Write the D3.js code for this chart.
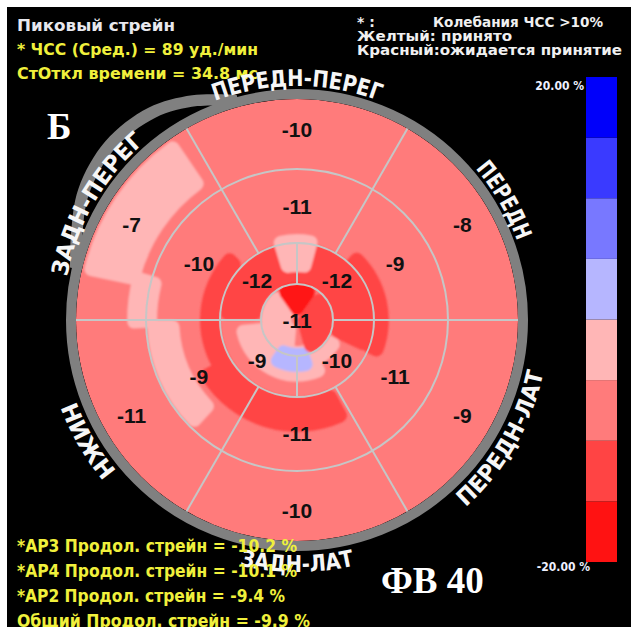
<!DOCTYPE html>
<html>
<head>
<meta charset="utf-8">
<script src="https://cdn.jsdelivr.net/npm/d3@7"></script>
<style>
  body { margin: 0; background: #fff; }
  text { font-family: 'DejaVu Sans', sans-serif; }
</style>
</head>
<body>
<svg width="631" height="627"></svg>
<script>
// peak longitudinal strain per segment, %
const basalValues = [-10, -8, -9, -10, -11, -7] // clockwise from the top sector
const midValues = [-11, -9, -11, -11, -9, -10]
const apicalValues = [-12, -10, -9, -12] // upper-right, lower-right, lower-left, upper-left
const apexValue = -11
const wallLabels = ['ПЕРЕДН-ПЕРЕГ', 'ПЕРЕДН', 'ПЕРЕДН-ЛАТ', 'ЗАДН-ЛАТ', 'НИЖН', 'ЗАДН-ПЕРЕГ']

// colour legend
const legendBreaks = [-15, -10, -5, 0, 5, 10, 15]
const legendColors = ['#ff1212', '#ff4444', '#ff7b7b', '#ffb6b6', '#b6b6ff', '#7878ff', '#3a3aff', '#0000fa']
const legendLabels = ['20.00 %', '-20.00 %']

// strain map: [ring from, ring to, angle from, angle to, strain]
// rings: 0 centre, 1 apex, 2 apical, 3 mid, 4 basal edge; angle in degrees, 0 = top
const baseStrain = -8
const patches = [
  [3.16, 3.97, -78, -34, -3],
  [2.85, 3.27, -93, -73, -3],
  [2.55, 2.99, -137, -90, -3],
  [2.0, 2.47, -208, -118, -12],
  [2.0, 2.27, -125, -44, -12],
  [1.83, 2.2, 40, 115, -12],
  [1.0, 2.0, -90, 115, -12],
  [1.29, 2.12, -17, 15, -3],
  [0.72, 1.63, -210, -95, -3],
  [0.15, 1.0, -175, -30, -3],
  [0.6, 1.35, 115, 160, -3],
  [0.78, 1.39, -200, -146, 2],
  [0.0, 1.0, 35, 165, -12],
  [0.14, 1.02, -35, 35, -17]
]

const headerLines = ['Пиковый стрейн', '* ЧСС (Сред.) = 89 уд./мин', 'СтОткл времени = 34.8 мс']
const noteLines = ['* :', 'Колебания ЧСС >10%', 'Желтый: принято', 'Красный:ожидается принятие']
const summaryLines = [
  '*АР3 Продол. стрейн = -10.2 %',
  '*АР4 Продол. стрейн = -10.1 %',
  '*АР2 Продол. стрейн = -9.4 %',
  'Общий Продол. стрейн = -9.9 %'
]
const panelLetter = 'Б'
const efLabel = 'ФВ 40'

const svg = d3.select('svg')
const width = +svg.attr('width')
const height = +svg.attr('height')

svg.append('rect').attr('x', 7).attr('y', 7)
  .attr('width', width - 7).attr('height', height - 7)
  .attr('fill', '#000')

const cx = 297
const cy = 320
const r = d3.scaleLinear().domain([0, 1, 2, 3, 4]).range([0, 36, 77, 151, 221])
const deg = d3.scaleLinear().domain([0, 360]).range([0, 2 * Math.PI])
const color = d3.scaleThreshold().domain(legendBreaks).range(legendColors)

const polar = function (rad, a) {
  return [rad * Math.sin(deg(a)), -rad * Math.cos(deg(a))]
}

const defs = svg.append('defs')
defs.append('clipPath').attr('id', 'disk')
  .append('circle').attr('r', r(4))
defs.append('filter').attr('id', 'soft')
  .append('feGaussianBlur').attr('stdDeviation', 1.3)

// header text
const left = svg.append('g')
const headerFit = [158, 241, 241]
left.selectAll('text')
  .data(headerLines)
  .join('text')
  .attr('x', 17)
  .attr('y', (d, i) => 31 + i * 24)
  .attr('textLength', (d, i) => headerFit[i])
  .attr('lengthAdjust', 'spacingAndGlyphs')
  .style('font-size', '15px')
  .style('font-weight', 'bold')
  .attr('fill', (d, i) => i === 0 ? '#e8e8ee' : '#f0f03c')
  .text(d => d)

const notePos = [[357, 27, null], [433, 27, 170], [357, 41, 155], [357, 55, 265]]
svg.append('g').selectAll('text')
  .data(noteLines)
  .join('text')
  .attr('x', (d, i) => notePos[i][0])
  .attr('y', (d, i) => notePos[i][1])
  .each(function (d, i) {
    if (notePos[i][2]) {
      d3.select(this).attr('textLength', notePos[i][2]).attr('lengthAdjust', 'spacingAndGlyphs')
    }
  })
  .style('font-size', '14px')
  .style('font-weight', 'bold')
  .attr('fill', '#f0f0f0')
  .text(d => d)

// pointer hook outside the ring
const hook = [[-15, 227], [-25, 242], [-35, 253], [-47, 256], [-59, 249], [-69, 236], [-77, 227]]
const g = svg.append('g').attr('transform', 'translate(' + cx + ',' + cy + ')')

g.append('path')
  .datum(hook)
  .attr('d', d3.areaRadial()
    .angle(d => deg(d[0]))
    .innerRadius(d => d[1] - 6)
    .outerRadius(d => d[1] + 6)
    .curve(d3.curveCatmullRom))
  .attr('fill', '#808080')

g.append('circle')
  .attr('r', r(4) + 5)
  .attr('fill', 'none')
  .attr('stroke', '#808080')
  .attr('stroke-width', 10)

// strain map
const map = g.append('g').attr('clip-path', 'url(#disk)')
map.append('circle').attr('r', r(4)).attr('fill', color(baseStrain))

const patchArc = d3.arc()
  .innerRadius(d => r(d[0]))
  .outerRadius(d => r(d[1]))
  .startAngle(d => deg(d[2]))
  .endAngle(d => deg(d[3]))
  .cornerRadius(7)

map.append('g')
  .attr('filter', 'url(#soft)')
  .selectAll('path')
  .data(patches)
  .join('path')
  .attr('d', patchArc)
  .attr('fill', d => color(d[4]))

// segment grid
const grid = g.append('g')
  .attr('stroke', '#c6c6c6')
  .attr('stroke-width', 2)
  .attr('fill', 'none')

grid.selectAll('circle')
  .data([1, 2, 3])
  .join('circle')
  .attr('r', d => r(d))

const spokes = d3.range(6).map(i => ({ a: 30 + i * 60, from: 2, to: 4 }))
  .concat(d3.range(4).map(i => ({ a: i * 90, from: 1, to: 2 })))

grid.selectAll('line')
  .data(spokes)
  .join('line')
  .attr('x1', d => polar(r(d.from), d.a)[0])
  .attr('y1', d => polar(r(d.from), d.a)[1])
  .attr('x2', d => polar(r(d.to), d.a)[0])
  .attr('y2', d => polar(r(d.to), d.a)[1])

// segment values
const segments = basalValues.map((v, i) => ({ v: v, a: i * 60, u: 3.57 }))
  .concat(midValues.map((v, i) => ({ v: v, a: i * 60, u: 2.49 })))
  .concat(apicalValues.map((v, i) => ({ v: v, a: 45 + i * 90, u: 1.5 })))
  .concat([{ v: apexValue, a: 0, u: 0 }])

g.append('g').selectAll('text')
  .data(segments)
  .join('text')
  .attr('x', d => polar(r(d.u), d.a)[0])
  .attr('y', d => polar(r(d.u), d.a)[1])
  .attr('dy', '0.36em')
  .attr('text-anchor', 'middle')
  .style('font-family', "'Liberation Sans', Arial, sans-serif")
  .style('font-size', '21px')
  .style('font-weight', 'bold')
  .attr('fill', '#111')
  .text(d => d.v)

// summary text
svg.append('g').selectAll('text')
  .data(summaryLines)
  .join('text')
  .attr('x', 17)
  .attr('y', (d, i) => 552 + i * 25)
  .attr('textLength', (d, i) => [280, 280, 268, 293][i])
  .attr('lengthAdjust', 'spacingAndGlyphs')
  .style('font-size', '17px')
  .style('font-weight', 'bold')
  .attr('fill', '#f0f03c')
  .text(d => d)

// wall names along the ring
const wallFit = [168, 84, 158, 116, 86, 158]
const wall = wallLabels.map((name, i) => ({ name: name, a: i * 60, top: i === 0 || i === 1 || i === 5 }))
g.selectAll('.wallpath')
  .data(wall)
  .join('path')
  .attr('class', 'wallpath')
  .attr('id', (d, i) => 'wall' + i)
  .attr('fill', 'none')
  .attr('d', function (d) {
    const p = d3.path()
    const half = 45
    if (d.top) {
      p.arc(0, 0, 234, deg(d.a - half) - Math.PI / 2, deg(d.a + half) - Math.PI / 2, false)
    } else {
      p.arc(0, 0, 252, deg(d.a + half) - Math.PI / 2, deg(d.a - half) - Math.PI / 2, true)
    }
    return p.toString()
  })

g.append('g').selectAll('text')
  .data(wall)
  .join('text')
  .style('font-family', "'DejaVu Sans Condensed', 'DejaVu Sans', sans-serif")
  .style('font-stretch', 'condensed')
  .style('font-size', '23px')
  .style('font-weight', 'bold')
  .attr('fill', '#f6f6f6')
  .append('textPath')
  .attr('href', (d, i) => '#wall' + i)
  .attr('startOffset', '50%')
  .attr('text-anchor', 'middle')
  .attr('textLength', (d, i) => wallFit[i])
  .attr('lengthAdjust', 'spacingAndGlyphs')
  .text(d => d.name)

// legend bar
const legendY = d3.scaleLinear().domain([20, -20]).range([77, 562])
const edges = [-20].concat(legendBreaks).concat([20])
svg.append('g').selectAll('rect')
  .data(legendColors)
  .join('rect')
  .attr('x', 586)
  .attr('width', 31)
  .attr('y', (d, i) => legendY(edges[i + 1]))
  .attr('height', (d, i) => legendY(edges[i]) - legendY(edges[i + 1]))
  .attr('fill', d => d)

svg.append('g').selectAll('text')
  .data(legendLabels)
  .join('text')
  .attr('x', (d, i) => i === 0 ? 584 : 590)
  .attr('y', (d, i) => i === 0 ? 90 : 571)
  .attr('text-anchor', 'end')
  .style('font-family', "'DejaVu Sans Condensed', 'DejaVu Sans', sans-serif")
  .style('font-stretch', 'condensed')
  .style('font-size', '12px')
  .style('font-weight', 'bold')
  .attr('fill', '#eef0ff')
  .text(d => d)

// panel letter and ejection fraction
svg.append('text')
  .attr('x', 47)
  .attr('y', 139)
  .style('font-family', "'Liberation Serif', 'DejaVu Serif', serif")
  .style('font-size', '37px')
  .style('font-weight', 'bold')
  .attr('fill', '#fff')
  .text(panelLetter)

svg.append('text')
  .attr('x', 381)
  .attr('y', 593)
  .style('font-family', "'Liberation Serif', 'DejaVu Serif', serif")
  .style('font-size', '37px')
  .style('font-weight', 'bold')
  .attr('fill', '#fff')
  .text(efLabel)
</script>
</body>
</html>
